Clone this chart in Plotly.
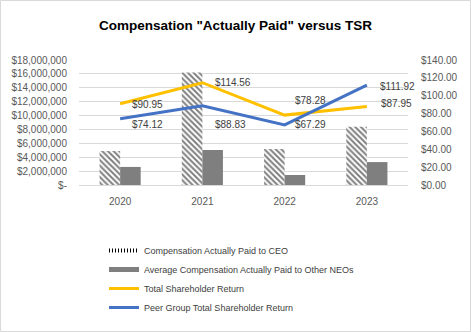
import plotly.graph_objects as go

years = ["2020", "2021", "2022", "2023"]
ceo_cap = [4900000, 16200000, 5180000, 8400000]
neo_cap = [2600000, 5040000, 1440000, 3300000]
tsr = [90.95, 114.56, 78.28, 87.95]
peer_tsr = [74.12, 88.83, 67.29, 111.92]

# label offsets in pixels (style, not data)
tsr_dx = [10, 11, 8, 12]
tsr_dy = [-1, 0, 15, 3]
peer_dx = [10, 11, 8, 11]
peer_dy = [-6, -19, 0, -1]

left_vals = [0, 2e6, 4e6, 6e6, 8e6, 10e6, 12e6, 14e6, 16e6, 18e6]
left_text = ["$-", "$2,000,000", "$4,000,000", "$6,000,000", "$8,000,000", "$10,000,000",
             "$12,000,000", "$14,000,000", "$16,000,000", "$18,000,000"]
right_vals = [0, 20, 40, 60, 80, 100, 120, 140]
right_text = ["$0.00", "$20.00", "$40.00", "$60.00", "$80.00", "$100.00", "$120.00", "$140.00"]

FONT = "Liberation Sans"
TXT = "#595959"
W, H = 471, 332
L, R, T, B = 79, 63, 60, 147
pw, ph = W - L - R, H - T - B

fig = go.Figure()
fig.add_trace(go.Bar(
    x=years, y=ceo_cap, name="Compensation Actually Paid to CEO", showlegend=False,
    legendgroup="ceo",
    marker=dict(color="white", line=dict(width=0),
                pattern=dict(shape="\\", fgcolor="black", bgcolor="white", size=4, solidity=0.5)),
    yaxis="y"))
fig.add_trace(go.Bar(
    x=years, y=neo_cap, name="Average Compensation Actually Paid to Other NEOs", showlegend=False,
    legendgroup="neo",
    marker=dict(color="#7f7f7f", line=dict(width=0)), yaxis="y"))
fig.add_trace(go.Scatter(
    x=years, y=tsr, name="Total Shareholder Return", mode="lines",
    line=dict(color="#FFC000", width=3), yaxis="y2", showlegend=False, legendgroup="tsr"))
fig.add_trace(go.Scatter(
    x=years, y=peer_tsr, name="Peer Group Total Shareholder Return", mode="lines",
    line=dict(color="#4472C4", width=3), yaxis="y2", showlegend=False, legendgroup="peer"))

# legend entries styled like the reference swatches
legend_items = [
    ("Compensation Actually Paid to CEO", "ceo", dict(color="black", width=4, dash="1px,2px")),
    ("Average Compensation Actually Paid to Other NEOs", "neo", dict(color="#7f7f7f", width=5)),
    ("Total Shareholder Return", "tsr", dict(color="#FFC000", width=3)),
    ("Peer Group Total Shareholder Return", "peer", dict(color="#4472C4", width=3)),
]
for name, grp, ln in legend_items:
    fig.add_trace(go.Scatter(x=[years[0]], y=[None], mode="lines", name=name,
                             legendgroup=grp, line=ln, yaxis="y2", hoverinfo="skip"))

annotations = []
for vals, dxs, dys in ((tsr, tsr_dx, tsr_dy), (peer_tsr, peer_dx, peer_dy)):
    for i, (v, dx, dy) in enumerate(zip(vals, dxs, dys)):
        annotations.append(dict(x=i, y=v, xref="x", yref="y2", text="$%.2f" % v,
                                showarrow=False, xanchor="left", yanchor="middle",
                                xshift=dx, yshift=dy,
                                font=dict(size=10, color="#404040", family=FONT)))

fig.update_layout(
    width=W, height=H,
    margin=dict(l=L, r=R, t=T, b=B, autoexpand=False),
    paper_bgcolor="white", plot_bgcolor="white",
    font=dict(family=FONT, size=10, color=TXT),
    title=dict(text='<b>Compensation "Actually Paid" versus TSR</b>',
               x=0.5, xanchor="center", y=1 - 25 / H, yanchor="middle",
               font=dict(size=13.5, color="#000000", family=FONT)),
    barmode="group", bargap=0.5, bargroupgap=0,
    xaxis=dict(type="category", categoryorder="array", categoryarray=years,
               range=[-0.5, len(years) - 0.5],
               showgrid=False, ticks="outside", ticklen=7, tickcolor="rgba(0,0,0,0)",
               showline=True, linecolor="#d9d9d9", linewidth=1,
               tickfont=dict(color=TXT, size=10, family=FONT)),
    yaxis=dict(range=[0, 18e6], tickvals=left_vals, ticktext=left_text,
               showgrid=True, gridcolor="#d9d9d9", gridwidth=1, zeroline=False,
               ticks="outside", ticklen=9, tickcolor="rgba(0,0,0,0)",
               tickfont=dict(color=TXT, size=10, family=FONT)),
    yaxis2=dict(range=[0, 140], tickvals=right_vals, ticktext=right_text,
                overlaying="y", side="right", showgrid=False, zeroline=False,
                ticks="outside", ticklen=10, tickcolor="rgba(0,0,0,0)",
                tickfont=dict(color=TXT, size=10, family=FONT)),
    legend=dict(x=(104 - L) / pw, xanchor="left", y=(H - B - 236) / ph, yanchor="top",
                font=dict(size=9, color="#404040", family=FONT), traceorder="normal",
                tracegroupgap=0, itemwidth=30, bgcolor="rgba(0,0,0,0)"),
    showlegend=True,
    annotations=annotations,
    shapes=[dict(type="rect", xref="paper", yref="paper",
                 x0=-(L - 0.5) / pw, x1=1 + (R - 0.5) / pw,
                 y0=-(B - 0.5) / ph, y1=1 + (T - 0.5) / ph,
                 line=dict(color="#d9d9d9", width=1), fillcolor="rgba(0,0,0,0)", layer="below")],
)

fig.write_html("out.html")
